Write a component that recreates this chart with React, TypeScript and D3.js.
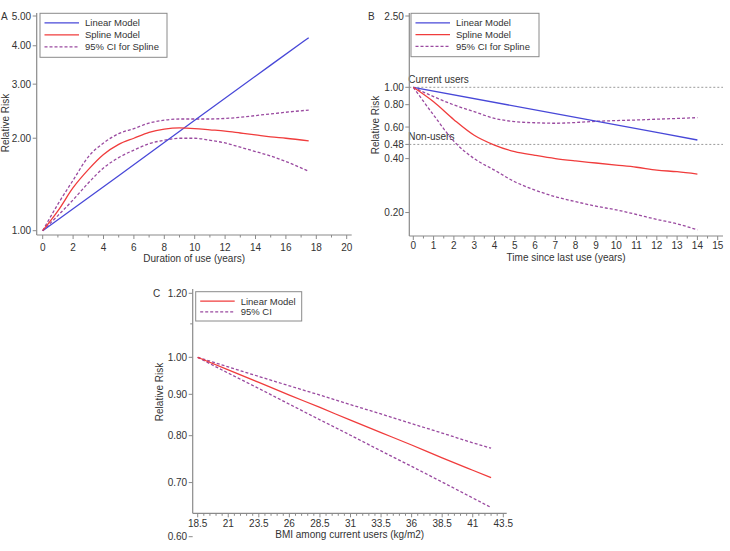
import React from "react";
import * as d3 from "d3";

// ---- Panel A: duration of use ----
const durYears = [0, 1, 2, 3, 4, 5, 6, 7, 8, 9, 10, 11, 12, 13, 14, 15, 16, 17.5];
const durSpline = [1.0, 1.16, 1.38, 1.58, 1.77, 1.91, 2.0, 2.09, 2.14, 2.16, 2.15, 2.13, 2.11, 2.08, 2.05, 2.02, 2.0, 1.96];
const durUpper = [1.0, 1.22, 1.46, 1.74, 1.93, 2.07, 2.15, 2.24, 2.29, 2.31, 2.31, 2.31, 2.32, 2.34, 2.37, 2.4, 2.43, 2.47];
const durLower = [1.0, 1.12, 1.26, 1.43, 1.6, 1.73, 1.83, 1.92, 1.97, 2.0, 2.0, 1.97, 1.93, 1.87, 1.81, 1.75, 1.68, 1.56];
const durLinearYears = [0, 5, 10, 15, 17.5];
const durLinear = [1.0, 1.51, 2.29, 3.46, 4.25];
const durXTicks = [0, 2, 4, 6, 8, 10, 12, 14, 16, 18, 20];
const durYTicks = [1, 2, 3, 4, 5];

// ---- Panel B: time since last use ----
const sinceYears = [0, 1, 2, 3, 4, 5, 6, 7, 8, 9, 10, 11, 12, 13, 14];
const sinceSpline = [1.0, 0.83, 0.66, 0.54, 0.476, 0.437, 0.417, 0.4, 0.388, 0.378, 0.368, 0.358, 0.345, 0.338, 0.328];
const sinceUpper = [1.0, 0.887, 0.797, 0.731, 0.671, 0.643, 0.634, 0.63, 0.636, 0.646, 0.652, 0.657, 0.664, 0.67, 0.677];
const sinceLower = [1.0, 0.7, 0.5, 0.4, 0.345, 0.297, 0.267, 0.245, 0.23, 0.217, 0.207, 0.195, 0.183, 0.173, 0.16];
const sinceLinearYears = [0, 7, 14];
const sinceLinear = [1.0, 0.713, 0.508];
const sinceXTicks = d3.range(0, 16);
const sinceYTicks = [0.2, 0.4, 0.48, 0.6, 0.8, 1.0, 2.5];
const sinceRefs = [
  { value: 1.0, label: "Current users" },
  { value: 0.48, label: "Non-users" },
];

// ---- Panel C: BMI among current users ----
const bmiValues = [18.5, 21, 23.5, 26, 28.5, 31, 33.5, 36, 38.5, 41, 42.5];
const bmiLinear = [1.0, 0.965, 0.931, 0.898, 0.867, 0.836, 0.807, 0.779, 0.751, 0.725, 0.71];
const bmiUpper = [1.0, 0.973, 0.947, 0.922, 0.898, 0.874, 0.851, 0.828, 0.806, 0.784, 0.772];
const bmiLower = [1.0, 0.956, 0.915, 0.875, 0.837, 0.801, 0.766, 0.733, 0.701, 0.67, 0.652];
const bmiXTicks = [18.5, 21, 23.5, 26, 28.5, 31, 33.5, 36, 38.5, 41, 43.5];
const bmiYTicks = [0.6, 0.7, 0.8, 0.9, 1.0, 1.2];
const bmiYMinor = [1.1];

const BLUE = "#4848d8";
const RED = "#f03c3c";
const PURPLE = "#9a4aa0";
const AXIS = "#8a8a8a";
const TEXT = "#333";
const FONT = "'Liberation Sans', Arial, sans-serif";
const CI_DASH = "3,2";

type Line = { xs: number[]; ys: number[]; color: string; dash?: string };
type LegendItem = { label: string; color: string; dash?: string };

type PanelProps = {
  letter: string;
  letterXY: [number, number];
  x: d3.ScaleLinear<number, number>;
  y: d3.ScaleLogarithmic<number, number>;
  axisX: number; // x position of the y axis line
  axisY: number; // y position of the x axis line
  axisRight: number;
  axisTop: number;
  xTicks: number[];
  xMinor: number[];
  yTicks: number[];
  yMinor?: number[];
  xFmt: (v: number) => string;
  xTitle: string;
  xTickBase: number;
  xTitleBase: number;
  yTitleX: number;
  yTitleY: number;
  lines: Line[];
  legend: LegendItem[];
  legendBox: [number, number, number, number];
  refs?: { value: number; label: string }[];
};

function Panel(p: PanelProps) {
  const { x, y } = p;
  const lineGen = (l: Line) =>
    d3
      .line<number>()
      .x((_, i) => x(l.xs[i]))
      .y((v) => y(v))
      .curve(d3.curveMonotoneX)(l.ys) || "";
  const [lx, ly, lw, lh] = p.legendBox;
  const rowGap = (lh - 8) / p.legend.length;
  return (
    <g fontFamily={FONT}>
      {/* reference lines */}
      {p.refs?.map((r) => (
        <g key={r.label}>
          <line
            x1={p.axisX}
            x2={p.axisRight}
            y1={y(r.value)}
            y2={y(r.value)}
            stroke="#9a9a9a"
            strokeWidth={1}
            strokeDasharray="2,2"
          />
          <text x={p.axisX - 1} y={y(r.value) - 4} fontSize={10} fill={TEXT}>
            {r.label}
          </text>
        </g>
      ))}
      {/* axes */}
      <line x1={p.axisX} x2={p.axisX} y1={p.axisTop} y2={p.axisY} stroke={AXIS} strokeWidth={1.2} />
      <line x1={p.axisX} x2={p.axisRight} y1={p.axisY} y2={p.axisY} stroke={AXIS} strokeWidth={1.2} />
      {p.xTicks.map((t) => (
        <g key={"xt" + t}>
          <line x1={x(t)} x2={x(t)} y1={p.axisY} y2={p.axisY + 4} stroke={AXIS} />
          <text x={x(t)} y={p.xTickBase} fontSize={10} textAnchor="middle" fill={TEXT}>
            {p.xFmt(t)}
          </text>
        </g>
      ))}
      {p.xMinor.map((t) => (
        <line key={"xm" + t} x1={x(t)} x2={x(t)} y1={p.axisY} y2={p.axisY + 2.5} stroke={AXIS} />
      ))}
      {p.yTicks.map((t) => (
        <g key={"yt" + t}>
          <line x1={p.axisX - 4} x2={p.axisX} y1={y(t)} y2={y(t)} stroke={AXIS} />
          <text x={p.axisX - 5.5} y={y(t) + 3.5} fontSize={10} textAnchor="end" fill={TEXT}>
            {d3.format(".2f")(t)}
          </text>
        </g>
      ))}
      {p.yMinor?.map((t) => (
        <line key={"ym" + t} x1={p.axisX - 2.5} x2={p.axisX} y1={y(t)} y2={y(t)} stroke={AXIS} />
      ))}
      <text x={(p.axisX + p.axisRight) / 2} y={p.xTitleBase} fontSize={10} textAnchor="middle" fill={TEXT}>
        {p.xTitle}
      </text>
      <text
        transform={`translate(${p.yTitleX},${p.yTitleY}) rotate(-90)`}
        fontSize={10}
        textAnchor="middle"
        fill={TEXT}
      >
        Relative Risk
      </text>
      <text x={p.letterXY[0]} y={p.letterXY[1]} fontSize={10} fill={TEXT}>
        {p.letter}
      </text>
      {/* data lines */}
      {p.lines.map((l, i) => (
        <path
          key={"l" + i}
          d={lineGen(l)}
          fill="none"
          stroke={l.color}
          strokeWidth={1.3}
          strokeDasharray={l.dash}
        />
      ))}
      {/* legend */}
      <rect x={lx} y={ly} width={lw} height={lh} fill="#fff" stroke={AXIS} strokeWidth={1} />
      {p.legend.map((it, i) => {
        const ry = ly + 9.5 + i * rowGap;
        return (
          <g key={it.label}>
            <line
              x1={lx + 4.5}
              x2={lx + 39}
              y1={ry}
              y2={ry}
              stroke={it.color}
              strokeWidth={1.3}
              strokeDasharray={it.dash}
            />
            <text x={lx + 45} y={ry + 3.5} fontSize={9.5} fill={TEXT}>
              {it.label}
            </text>
          </g>
        );
      })}
    </g>
  );
}

export default function App() {
  const xA = d3.scaleLinear().domain([0, 20]).range([42.7, 346.7]);
  const yA = d3.scaleLog().domain([1, 5]).range([230.7, 16]);

  const xB = d3.scaleLinear().domain([0, 15]).range([413.3, 717.7]);
  const yB = d3.scaleLog().domain([1, 2.5]).range([87.3, 16]);

  const xC = d3.scaleLinear().domain([18.5, 43.5]).range([197.7, 503.3]);
  const yC = d3.scaleLog().domain([0.6, 1.2]).range([536.7, 293.3]);

  const splineLegend: LegendItem[] = [
    { label: "Linear Model", color: BLUE },
    { label: "Spline Model", color: RED },
    { label: "95% CI for Spline", color: PURPLE, dash: CI_DASH },
  ];

  return (
    <svg width={730} height={551} style={{ position: "absolute", left: 0, top: 0, background: "#fff" }}>
      <Panel
        letter="A"
        letterXY={[1, 19.5]}
        x={xA}
        y={yA}
        axisX={36.7}
        axisY={235}
        axisRight={351.7}
        axisTop={13}
        xTicks={durXTicks}
        xMinor={d3.range(1, 20, 2)}
        yTicks={durYTicks}
        xFmt={(v) => String(v)}
        xTitle="Duration of use (years)"
        xTickBase={250.5}
        xTitleBase={261.5}
        yTitleX={8.5}
        yTitleY={123}
        lines={[
          { xs: durYears, ys: durUpper, color: PURPLE, dash: CI_DASH },
          { xs: durYears, ys: durLower, color: PURPLE, dash: CI_DASH },
          { xs: durLinearYears, ys: durLinear, color: BLUE },
          { xs: durYears, ys: durSpline, color: RED },
        ]}
        legend={splineLegend}
        legendBox={[40, 13.3, 127, 44]}
      />
      <Panel
        letter="B"
        letterXY={[368, 19.5]}
        x={xB}
        y={yB}
        axisX={409.3}
        axisY={236}
        axisRight={723}
        axisTop={13}
        xTicks={sinceXTicks}
        xMinor={d3.range(0.5, 15, 1)}
        yTicks={sinceYTicks}
        xFmt={(v) => String(v)}
        xTitle="Time since last use (years)"
        xTickBase={249}
        xTitleBase={260.5}
        yTitleX={379}
        yTitleY={125}
        lines={[
          { xs: sinceYears, ys: sinceUpper, color: PURPLE, dash: CI_DASH },
          { xs: sinceYears, ys: sinceLower, color: PURPLE, dash: CI_DASH },
          { xs: sinceLinearYears, ys: sinceLinear, color: BLUE },
          { xs: sinceYears, ys: sinceSpline, color: RED },
        ]}
        legend={splineLegend}
        legendBox={[411, 13.3, 128, 43.4]}
        refs={sinceRefs}
      />
      <Panel
        letter="C"
        letterXY={[153, 297]}
        x={xC}
        y={yC}
        axisX={192.7}
        axisY={513.3}
        axisRight={506.7}
        axisTop={289}
        xTicks={bmiXTicks}
        xMinor={d3.range(19, 43.5, 0.5).filter((v) => !bmiXTicks.includes(v))}
        yTicks={bmiYTicks}
        yMinor={bmiYMinor}
        xFmt={(v) => String(v)}
        xTitle="BMI among current users (kg/m2)"
        xTickBase={527}
        xTitleBase={538}
        yTitleX={163}
        yTitleY={392}
        lines={[
          { xs: bmiValues, ys: bmiUpper, color: PURPLE, dash: CI_DASH },
          { xs: bmiValues, ys: bmiLower, color: PURPLE, dash: CI_DASH },
          { xs: bmiValues, ys: bmiLinear, color: RED },
        ]}
        legend={[
          { label: "Linear Model", color: RED },
          { label: "95% CI", color: PURPLE, dash: CI_DASH },
        ]}
        legendBox={[195.7, 291.7, 106, 29.3]}
      />
    </svg>
  );
}
